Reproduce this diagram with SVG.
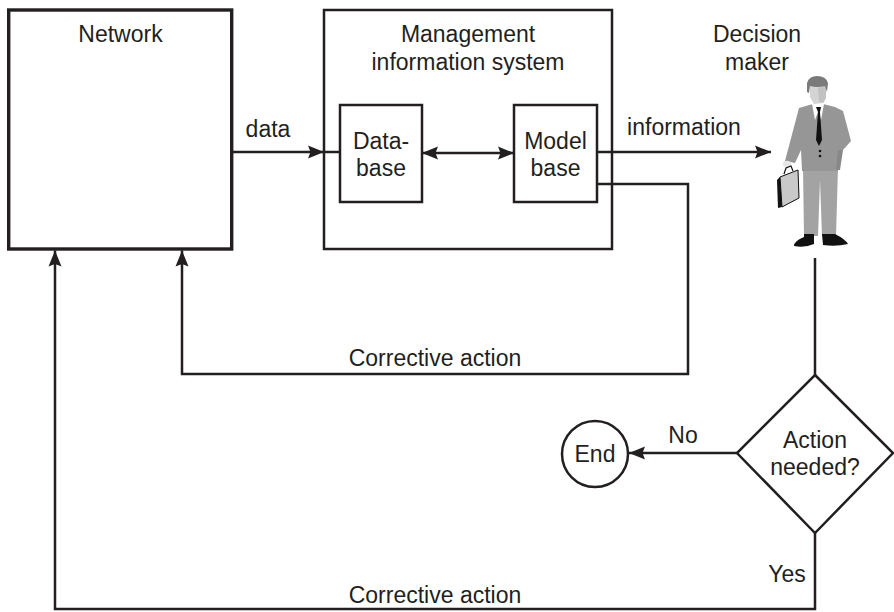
<svg xmlns="http://www.w3.org/2000/svg" width="894" height="612" viewBox="0 0 894 612">
  <style>
    .lbl { font-family: "Liberation Sans", Arial, sans-serif; font-size: 23px; fill: #231f20; text-anchor: middle; }
    .box { fill: #ffffff; stroke: #231f20; stroke-width: 2.5; }
    .wire { fill: none; stroke: #231f20; stroke-width: 2.5; stroke-linejoin: miter; }
  </style>
  <defs>
    <marker id="arrow" markerUnits="userSpaceOnUse" markerWidth="18" markerHeight="14" refX="16" refY="7" orient="auto-start-reverse">
      <path d="M0,0.5 L16,7 L0,13.5 L2.5,7 Z" fill="#231f20"/>
    </marker>
  </defs>

  <rect width="894" height="612" fill="#ffffff"/>

  <!-- Network -->
  <g id="network">
    <rect x="8.7" y="10" width="223" height="239" fill="#ffffff" stroke="#231f20" stroke-width="3.4"/>
    <text class="lbl" x="120.5" y="42">Network</text>
  </g>

  <!-- Management information system -->
  <g id="mis">
    <rect class="box" x="324" y="10" width="288" height="239"/>
    <text class="lbl" x="468" y="42">Management</text>
    <text class="lbl" x="468" y="70">information system</text>
  </g>

  <g id="database">
    <rect class="box" x="340" y="105" width="82" height="97"/>
    <text class="lbl" x="381" y="149">Data-</text>
    <text class="lbl" x="381" y="176">base</text>
  </g>

  <g id="modelbase">
    <rect class="box" x="514" y="105" width="83" height="97"/>
    <text class="lbl" x="555.5" y="149">Model</text>
    <text class="lbl" x="555.5" y="176">base</text>
  </g>

  <!-- Decision maker -->
  <g id="decision-maker">
    <text class="lbl" x="757" y="42">Decision</text>
    <text class="lbl" x="757" y="70">maker</text>
    <g id="person">
      <!-- pants -->
      <path d="M803,168 L838,168 L836,236 L822,236 L820,180 L818,236 L804,236 Z" fill="#a3a3a3"/>
      <!-- jacket -->
      <path d="M799,108 L813,104 L823,104 L835,107 L843,111 L851,141 L843,150 L840,153 L838,171 L802,171 L801,150 L795,163 L785,161 Z" fill="#969696"/>
      <!-- hand-in-pocket shading -->
      <path d="M838,150 L843,150 L840,170 L836,170 Z" fill="#888888"/>
      <!-- collar -->
      <path d="M812,104 L824,104 L821,120 L818,112 L815,120 Z" fill="#ffffff"/>
      <!-- tie -->
      <path d="M816,107 L821,107 L820,112 L822,140 L819,146 L816,140 L818,112 Z" fill="#111111"/>
      <!-- buttons -->
      <circle cx="820" cy="151" r="1.3" fill="#111111"/>
      <circle cx="820" cy="156" r="1.3" fill="#111111"/>
      <!-- face -->
      <path d="M810,86 L826,86 L826,98 L823,103 L814,104 L810,97 Z" fill="#d4d4d4"/>
      <path d="M818,88 L826,86 L826,98 L823,103 L819,102 Z" fill="#c2c2c2"/>
      <!-- hair -->
      <path d="M807,92 L807,83 Q809,76 817,76 Q826,76 828,83 L827,92 L825,86 Q818,88 810,86 L809,93 Z" fill="#7a7a7a"/>
      <!-- hand -->
      <ellipse cx="787" cy="164" rx="4" ry="3.2" fill="#e6e6e6"/>
      <!-- briefcase -->
      <path d="M780,177 L798,170 L799,198 L782,207 Z" fill="#c9c9c9" stroke="#111111" stroke-width="1"/>
      <path d="M777,180 L780,177 L782,207 L778,208 Z" fill="#111111"/>
      <path d="M784,174 L786,168 L791,166 L793,171" fill="none" stroke="#111111" stroke-width="1.2"/>
      <!-- shoes -->
      <path d="M804,234 L814,234 L814,244 Q805,248 794,246 Q794,241 804,237 Z" fill="#111111"/>
      <path d="M822,234 L835,234 Q845,239 848,244 Q836,247 823,245 Z" fill="#111111"/>
    </g>
  </g>

  <!-- Decision -->
  <g id="decision">
    <path class="box" d="M815,375 L893,453 L815,533 L737,453 Z"/>
    <text class="lbl" x="815" y="448">Action</text>
    <text class="lbl" x="815" y="475">needed?</text>
  </g>

  <!-- End -->
  <g id="end">
    <circle class="box" cx="595" cy="454" r="33"/>
    <text class="lbl" x="595" y="462">End</text>
  </g>

  <!-- Connectors -->
  <g id="connectors">
    <path class="wire" d="M232,152 H324" marker-end="url(#arrow)"/>
    <path class="wire" d="M324,152 H340"/>
    <path class="wire" d="M422,153 H514" marker-start="url(#arrow)" marker-end="url(#arrow)"/>
    <path class="wire" d="M597,152 H771" marker-end="url(#arrow)"/>
    <path class="wire" d="M597,184 H688 V374 H182 V250.5" marker-end="url(#arrow)"/>
    <path class="wire" d="M815,258 V375"/>
    <path class="wire" d="M737,453 H629" marker-end="url(#arrow)"/>
    <path class="wire" d="M815,533 V609 H55 V250.5" marker-end="url(#arrow)"/>
  </g>

  <!-- Connector labels -->
  <g id="labels">
    <text class="lbl" x="268" y="137">data</text>
    <text class="lbl" x="684" y="135">information</text>
    <text class="lbl" x="435" y="366">Corrective action</text>
    <text class="lbl" x="683" y="443">No</text>
    <text class="lbl" x="787" y="582">Yes</text>
    <text class="lbl" x="435" y="603">Corrective action</text>
  </g>
</svg>
